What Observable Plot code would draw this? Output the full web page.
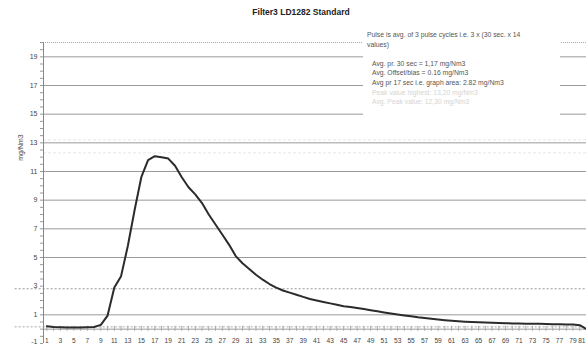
<!DOCTYPE html>
<html><head><meta charset="utf-8">
<script src="https://cdn.jsdelivr.net/npm/d3@7"></script>
<script src="https://cdn.jsdelivr.net/npm/@observablehq/plot@0.6"></script>
<style>
body{margin:0;background:#fff;font-family:"Liberation Sans",Arial,sans-serif;}
#wrap{position:relative;width:586px;height:344px;overflow:hidden;}
#title{position:absolute;left:0;width:602px;top:7px;text-align:center;font-weight:bold;font-size:8.5px;color:#222;}
#ylab{position:absolute;left:-8px;top:144px;width:56px;text-align:center;font-size:7px;color:#444;transform:rotate(-90deg);}
#note{position:absolute;left:363px;top:29px;width:197px;height:90px;background:#fff;font-size:6.8px;line-height:9.6px;color:#555;padding:1px 0 0 4px;box-sizing:border-box;}
#note .i{padding-left:5px;}
#note .f{color:#d4d4d4;}
</style></head>
<body>
<div id="wrap">
<div id="chart"></div>
<div id="title">Filter3 LD1282 Standard</div>
<div id="ylab">mg/Nm3</div>
<div id="note"></div>
</div>
<script>
const title = "Filter3 LD1282 Standard";
const categories = d3.range(1, 82);
const values = [0.2,0.15,0.13,0.12,0.12,0.12,0.13,0.15,0.3,0.95,
  2.9,3.7,5.8,8.3,10.6,11.8,12.07,12.0,11.9,11.4,
  10.6,9.9,9.4,8.8,8.0,7.3,6.6,5.9,5.1,4.6,
  4.2,3.8,3.45,3.15,2.9,2.7,2.55,2.4,2.25,2.1,
  2.0,1.9,1.8,1.7,1.6,1.55,1.47,1.4,1.32,1.25,
  1.17,1.1,1.03,0.96,0.9,0.83,0.78,0.72,0.67,0.62,
  0.58,0.55,0.52,0.5,0.48,0.46,0.45,0.43,0.42,0.4,
  0.39,0.38,0.37,0.37,0.36,0.35,0.34,0.33,0.32,0.28,0.0];
const xTickLabels = d3.range(1, 82, 2);
const yTickLabels = [1,3,5,7,9,11,13,15,17,19];
const yBottomLabel = [-1];
const gridValues = [1,5,7,9,11,13,15,17,19];
const avgOffset = 0.16;
const avgGraphArea = 2.82;
const peakLines = [13.2, 12.3];
const noteLines = [
  "Pulse is avg. of 3 pulse cycles i.e. 3 x (30 sec. x 14",
  "values)",
  "",
  "Avg. pr. 30 sec = 1,17 mg/Nm3",
  "Avg. Offset/bias = 0.16 mg/Nm3",
  "Avg pr 17 sec i.e. graph area: 2.82 mg/Nm3",
  "Peak value highest: 13,20 mg/Nm3",
  "Avg. Peak value: 12,30 mg/Nm3"
];
const noteClass = ["","","","i","i","i","i f","i f"];

const data = categories.map((c, i) => ({c, v: values[i]}));
const xDom = [0.5, 81];
const leftExt = xDom[0] - 4.2;
const lastLabel = xTickLabels[xTickLabels.length - 1];

document.getElementById("note").innerHTML = noteLines.map((t,i)=>`<div class="${noteClass[i]}">${t||"&nbsp;"}</div>`).join("");

const chart = Plot.plot({
  width: 586, height: 344,
  marginTop: 42, marginBottom: 1, marginLeft: 43, marginRight: 0,
  x: {domain: xDom, axis: null},
  y: {domain: [-1, 20], axis: null},
  style: {fontFamily: "Liberation Sans, Arial, sans-serif", background: "#fff"},
  marks: [
    Plot.ruleY(gridValues, {stroke: "#9a9a9a", strokeWidth: 1}),
    Plot.ruleY([20], {stroke: "#aaa", strokeDasharray: "1,1"}),
    Plot.ruleY(peakLines, {stroke: "#e6e6e6", strokeDasharray: "3,2"}),
    Plot.ruleY([avgGraphArea], {x1: leftExt, x2: xDom[1], stroke: "#999", strokeDasharray: "2,2", clip: false}),
    Plot.ruleY([avgOffset], {x1: leftExt, x2: xDom[1], stroke: "#aaa", strokeDasharray: "2,2", clip: false}),
    Plot.ruleY([0], {stroke: "#999"}),
    Plot.ruleX(categories, {x: d => d, y1: -0.15, y2: 0.2, stroke: "#aaa"}),
    Plot.ruleX([xDom[0]], {stroke: "#888"}),
    Plot.axisY({ticks: d3.range(-1, 20.5, 0.5), tickSize: 3, tickFormat: () => "", stroke: "#999", label: null}),
    Plot.axisY({ticks: yTickLabels, tickSize: 0, tickPadding: 6, fontSize: 7, fill: "#444", label: null}),
    Plot.text(yBottomLabel, {x: xDom[0], y: d => d, dx: -6, text: d => String(d), textAnchor: "end", lineAnchor: "bottom", fontSize: 7, fill: "#444"}),
    Plot.text(xTickLabels.filter(d => d !== lastLabel), {x: d => d, y: 0, dy: 9, lineAnchor: "top", text: d => String(d), fontSize: 6.6, fill: "#444"}),
    Plot.text([lastLabel], {x: d => d, y: 0, dy: 9, dx: -1, lineAnchor: "top", textAnchor: "end", text: d => String(d), fontSize: 6.6, fill: "#444"}),
    Plot.line(data, {x: "c", y: "v", stroke: "#2b2b2b", strokeWidth: 2, strokeLinejoin: "round"})
  ]
});
document.getElementById("chart").appendChild(chart);
</script>
</body></html>
